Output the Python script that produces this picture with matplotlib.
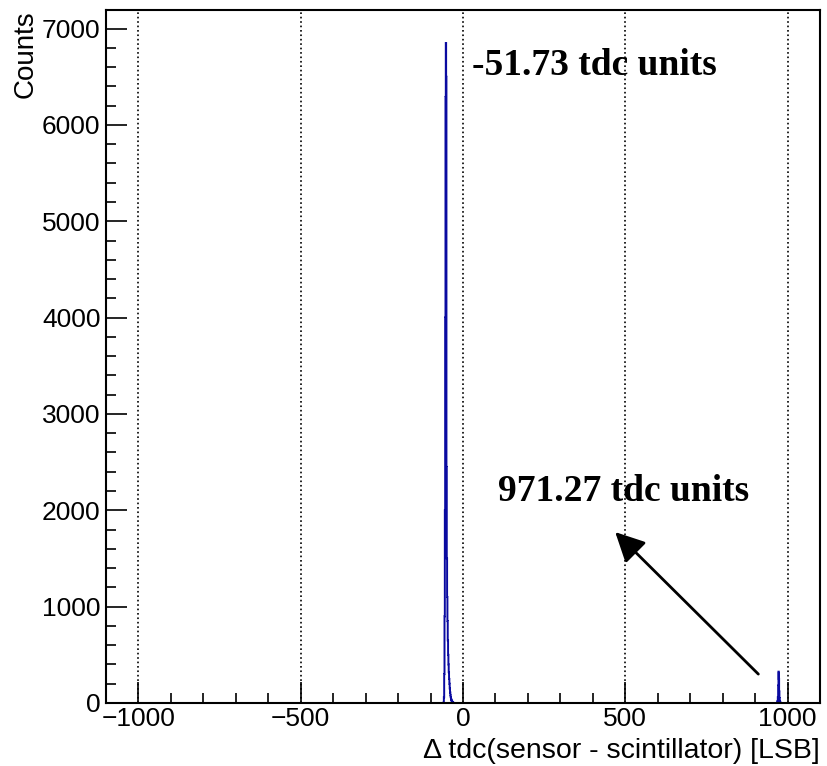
import numpy as np
import matplotlib
matplotlib.use('Agg')
import matplotlib.pyplot as plt
from matplotlib.ticker import MultipleLocator

plt.rcParams['font.family'] = ['Liberation Sans', 'DejaVu Sans']

# histogram range, 1 LSB per bin
x_lo, x_hi = -1100, 1100

# main coincidence peak (bin low edge -> counts)
main_bins = [-60, -59, -58, -57, -56, -55, -54, -53, -52, -51, -50, -49, -48,
             -47, -46, -45, -44, -43, -42, -41, -40, -39, -38, -37, -36, -35,
             -34, -33, -32, -31]
main_counts = [5, 60, 300, 900, 2000, 4000, 6290, 6850, 6500, 2450, 1500, 1100,
               850, 650, 500, 400, 320, 250, 200, 150, 110, 80, 60, 40, 30, 20,
               15, 10, 8, 5]

# secondary peak near +1 clock period
side_bins = [968, 969, 970, 971, 972, 973, 974, 975, 976, 977]
side_counts = [5, 20, 60, 180, 325, 250, 120, 50, 20, 8]

peak_labels = ['-51.73 tdc units', '971.27 tdc units']

edges = np.arange(x_lo, x_hi + 1)
counts = np.zeros(len(edges) - 1)
for b, c in zip(main_bins + side_bins, main_counts + side_counts):
    counts[b - x_lo] = c

fig = plt.figure(figsize=(8.28, 7.66), dpi=100)
ax = fig.add_axes([106/828, 1 - 703/766, 714/828, 693/766])

ax.stairs(counts, edges, color='#0a0aa0', lw=1.4)

ax.set_xlim(x_lo, x_hi)
ax.set_ylim(0, 1.05 * max(counts))

ax.xaxis.set_major_locator(MultipleLocator(500))
ax.xaxis.set_minor_locator(MultipleLocator(100))
ax.yaxis.set_major_locator(MultipleLocator(1000))
ax.yaxis.set_minor_locator(MultipleLocator(200))
ax.tick_params(which='both', direction='in', top=False, right=False,
               labelsize=19, width=1.2)
ax.tick_params(which='major', length=15)
ax.tick_params(which='minor', length=7.5)
ax.tick_params(axis='x', pad=3)
ax.tick_params(axis='y', pad=4)
for sp in ax.spines.values():
    sp.set_linewidth(1.5)

ax.grid(axis='x', which='major', color='black', linestyle=':', lw=1.2)

ax.set_xlabel('\u0394 tdc(sensor - scintillator) [LSB]', fontsize=20.5, loc='right')
ax.xaxis.set_label_coords(1.0, -0.050)
ax.set_ylabel('Counts', fontsize=20, loc='top')
ax.yaxis.set_label_coords(-0.094, 1.0)

serif_bold = dict(family='Liberation Serif', weight='bold', fontsize=27)
ax.text(28, 6515, peak_labels[0], **serif_bold)
ax.text(108, 2095, peak_labels[1], **serif_bold)

ax.annotate('', xy=(469, 1774), xytext=(910, 300),
            arrowprops=dict(arrowstyle='-|>,head_length=0.9,head_width=0.45',
                            mutation_scale=20, lw=2, color='black',
                            shrinkA=0, shrinkB=0))

fig.savefig('out.png', dpi=100)
